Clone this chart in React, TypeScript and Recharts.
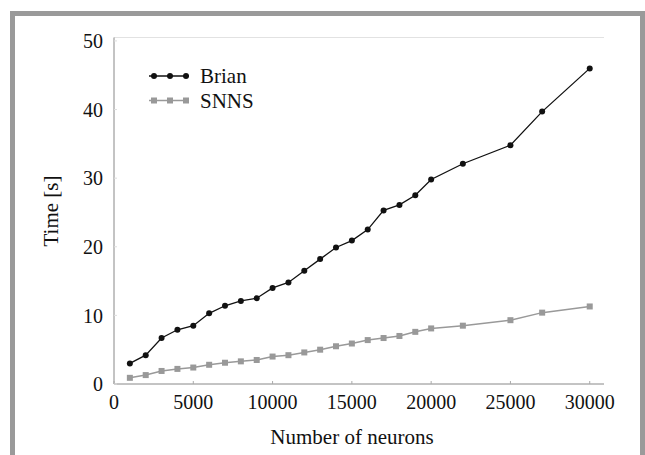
import { LineChart, Line, XAxis, YAxis, Legend, ReferenceLine } from "recharts"

const neurons = [
  1000, 2000, 3000, 4000, 5000, 6000, 7000, 8000, 9000, 10000, 11000, 12000, 13000, 14000, 15000,
  16000, 17000, 18000, 19000, 20000, 22000, 25000, 27000, 30000,
]
const brianTime = [
  3.0, 4.2, 6.7, 7.9, 8.5, 10.3, 11.4, 12.1, 12.5, 14.0, 14.8, 16.5, 18.2, 19.9, 20.9,
  22.5, 25.3, 26.1, 27.5, 29.8, 32.1, 34.8, 39.7, 46.0,
]
const snnsTime = [
  0.9, 1.3, 1.9, 2.2, 2.4, 2.8, 3.1, 3.3, 3.5, 4.0, 4.2, 4.6, 5.0, 5.5, 5.9,
  6.4, 6.7, 7.0, 7.6, 8.1, 8.5, 9.3, 10.4, 11.3,
]
const xTicks = [0, 5000, 10000, 15000, 20000, 25000, 30000]
const yTicks = [0, 10, 20, 30, 40, 50]

const data = neurons.map((n, i) => ({ n, brian: brianTime[i], snns: snnsTime[i] }))

const serif = { fontFamily: "Liberation Serif, Tinos, Times New Roman, DejaVu Serif, serif" }
const ink = "#111"
const grey = "#999"

const XTick = (props: any) => {
  const { x, y, payload } = props
  return (
    <g>
      <line x1={x} x2={x} y1={y} y2={y - 3} stroke="#aaa" />
      <text x={x} y={y + 24.5} textAnchor="middle" fontSize={20} style={serif} fill={ink}>
        {payload.value}
      </text>
    </g>
  )
}

const YTick = (props: any) => {
  const { x, y, payload } = props
  return (
    <g>
      <line x1={x} x2={x + 3} y1={y} y2={y} stroke="#ddd" />
      <text x={x - 11} y={y + 7.3} textAnchor="end" fontSize={20} style={serif} fill={ink}>
        {payload.value}
      </text>
    </g>
  )
}

const SquareDot = (props: any) => {
  const { cx, cy, index } = props
  return <rect key={index} x={cx - 3} y={cy - 3} width={6} height={6} fill={grey} />
}

const LegendBox = () => (
  <svg width={130} height={50}>
    <line x1={1} x2={41} y1={12} y2={12} stroke={ink} strokeWidth={1.3} />
    {[6, 22, 38].map((cx) => (
      <circle key={cx} cx={cx} cy={12} r={3} fill={ink} />
    ))}
    <text x={52} y={19} fontSize={21} style={serif} fill={ink}>Brian</text>
    <line x1={1} x2={41} y1={36.5} y2={36.5} stroke={grey} strokeWidth={1.5} />
    {[6, 22, 38].map((cx) => (
      <rect key={cx} x={cx - 3} y={33.5} width={6} height={6} fill={grey} />
    ))}
    <text x={52} y={43.5} fontSize={21} style={serif} fill={ink}>SNNS</text>
  </svg>
)

export default function App() {
  return (
    <div>
      <div
        style={{
          position: "absolute",
          left: 10,
          top: 11,
          width: 635,
          height: 444,
          border: "5.5px solid #9a9a9a",
          borderBottom: "none",
          boxSizing: "border-box",
        }}
      />
      <div style={{ position: "absolute", left: 0, top: 0, width: 645, height: 455 }}>
        <LineChart
          width={645}
          height={455}
          data={data}
          margin={{ top: 37.5, right: 41, bottom: 41, left: 54 }}
        >
          <XAxis
            dataKey="n"
            type="number"
            domain={[0, 30900]}
            allowDataOverflow
            ticks={xTicks}
            interval={0}
            height={30}
            tickLine={false}
            tickSize={0}
            tickMargin={0}
            axisLine={{ stroke: "#888" }}
            tick={<XTick />}
            label={{
              content: () => (
                <text x={352} y={444} textAnchor="middle" fontSize={21} style={serif} fill={ink}>
                  Number of neurons
                </text>
              ),
            }}
          />
          <YAxis
            type="number"
            domain={[0, 50.5]}
            allowDataOverflow
            ticks={yTicks}
            interval={0}
            width={60}
            tickLine={false}
            tickSize={0}
            tickMargin={0}
            axisLine={{ stroke: "#888" }}
            tick={<YTick />}
            label={{
              content: () => (
                <text
                  x={58}
                  y={211}
                  transform="rotate(-90 58 211)"
                  textAnchor="middle"
                  fontSize={21}
                  style={serif}
                  fill={ink}
                >
                  Time [s]
                </text>
              ),
            }}
          />
          <ReferenceLine y={50.5} stroke="#e2e2e2" />
          <Legend
            layout="horizontal"
            verticalAlign="middle"
            align="center"
            content={() => <LegendBox />}
            wrapperStyle={{ position: "absolute", left: 148, top: 64, width: 130, height: 50 }}
          />
          <Line
            type="linear"
            dataKey="snns"
            stroke={grey}
            strokeWidth={1.5}
            dot={<SquareDot />}
            isAnimationActive={false}
          />
          <Line
            type="linear"
            dataKey="brian"
            stroke={ink}
            strokeWidth={1.3}
            dot={{ r: 3, fill: ink, stroke: "none" }}
            isAnimationActive={false}
          />
        </LineChart>
      </div>
    </div>
  )
}
